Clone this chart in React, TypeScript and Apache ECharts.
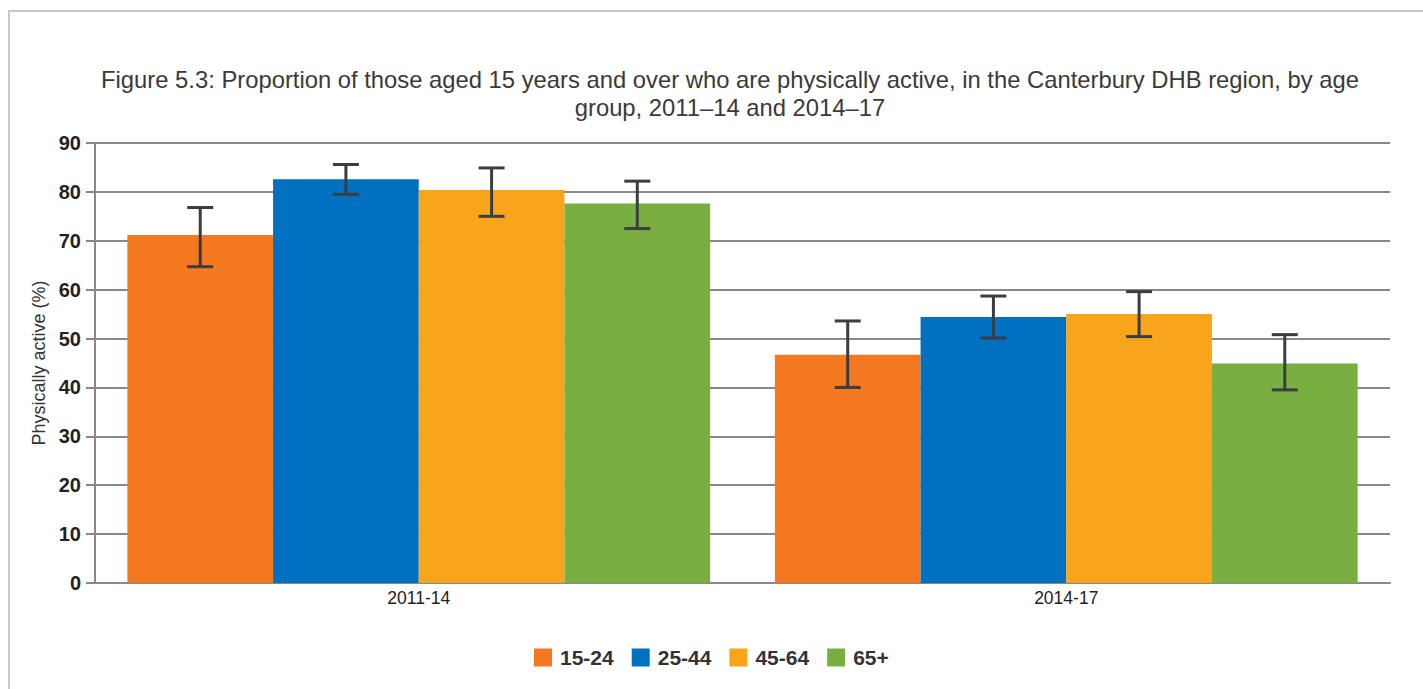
import React, { useEffect, useRef } from "react";
import * as echarts from "echarts";

const categories = ["2011-14", "2014-17"];
const seriesNames = ["15-24", "25-44", "45-64", "65+"];
const colors = ["#F47920", "#0070C0", "#F9A51B", "#78AF40"];
const values = [
  [71.2, 46.7],
  [82.6, 54.4],
  [80.4, 55.0],
  [77.6, 44.9],
];
const lowCI = [
  [64.7, 40.0],
  [79.5, 50.1],
  [75.0, 50.4],
  [72.5, 39.5],
];
const highCI = [
  [76.8, 53.6],
  [85.6, 58.7],
  [84.9, 59.6],
  [82.2, 50.8],
];
const yTicks = [0, 10, 20, 30, 40, 50, 60, 70, 80, 90];
const title =
  "Figure 5.3: Proportion of those aged 15 years and over who are physically active, in the Canterbury DHB region, by age\ngroup, 2011\u201314 and 2014\u201317";
const yAxisName = "Physically active (%)";

const CAT_GAP = 0.1;
const FONT = "'Liberation Sans', Arial, sans-serif";

export default function App() {
  const ref = useRef<HTMLDivElement>(null);
  useEffect(() => {
    if (!ref.current) return;
    const chart = echarts.init(ref.current, null, { renderer: "svg" });
    const n = seriesNames.length;
    const barSeries = seriesNames.map((name, i) => ({
      name,
      type: "bar",
      data: values[i],
      itemStyle: { color: colors[i] },
      barGap: "0%",
      barCategoryGap: CAT_GAP * 100 + "%",
    }));
    const errSeries = seriesNames.map((name, i) => ({
      name: name + "-err",
      type: "custom",
      data: categories.map((_, c) => [c, lowCI[i][c], highCI[i][c]]),
      encode: { x: 0, y: [1, 2] },
      z: 10,
      renderItem: (params: any, api: any) => {
        const c = api.value(0);
        const lo = api.coord([c, api.value(1)]);
        const hi = api.coord([c, api.value(2)]);
        const catW = api.size([1, 0])[0];
        const groupW = catW * (1 - CAT_GAP);
        const bw = groupW / n;
        const x = lo[0] - groupW / 2 + (i + 0.5) * bw;
        const cap = 13;
        const style = { stroke: "#3a3d42", lineWidth: 3 };
        return {
          type: "group",
          children: [
            { type: "line", shape: { x1: x, y1: hi[1], x2: x, y2: lo[1] }, style },
            { type: "line", shape: { x1: x - cap, y1: hi[1], x2: x + cap, y2: hi[1] }, style },
            { type: "line", shape: { x1: x - cap, y1: lo[1], x2: x + cap, y2: lo[1] }, style },
          ],
        };
      },
    }));
    chart.setOption({
      animation: false,
      backgroundColor: "#ffffff",
      title: {
        text: title,
        left: 725,
        textAlign: "center",
        top: 60,
        textStyle: {
          fontFamily: FONT,
          fontSize: 23.8,
          fontWeight: "normal",
          color: "#3a3a3a",
          lineHeight: 28,
        },
      },
      graphic: [
        {
          type: "rect",
          shape: { x: 9, y: 11, width: 1430, height: 700 },
          style: { fill: "none", stroke: "#c8c8c8", lineWidth: 2 },
          silent: true,
        },
      ],
      legend: {
        data: seriesNames,
        left: 534,
        top: 647,
        padding: 0,
        itemWidth: 18,
        itemHeight: 18,
        itemGap: 18,
        icon: "rect",
        textStyle: {
          fontFamily: FONT,
          fontSize: 21,
          fontWeight: "bold",
          color: "#333",
          padding: [0, 0, 0, 3],
        },
      },
      grid: { left: 95, right: 33, top: 143, bottom: 106, containLabel: false },
      xAxis: {
        type: "category",
        data: categories,
        axisLine: { lineStyle: { color: "#888", width: 2 } },
        axisTick: { alignWithLabel: true, length: 6, lineStyle: { color: "#888", width: 2 } },
        axisLabel: {
          fontFamily: FONT,
          fontSize: 17.5,
          color: "#222",
          margin: 6,
        },
      },
      yAxis: {
        type: "value",
        min: 0,
        max: 90,
        interval: 10,
        name: yAxisName,
        nameLocation: "middle",
        nameGap: 46,
        nameTextStyle: { fontFamily: FONT, fontSize: 18, color: "#333" },
        axisLine: { show: true, lineStyle: { color: "#888", width: 2 } },
        axisTick: { show: true, length: 9, lineStyle: { color: "#888", width: 2 } },
        axisLabel: {
          fontFamily: FONT,
          fontSize: 20,
          fontWeight: "bold",
          color: "#222",
          margin: 14,
          formatter: (v: number) => (yTicks.includes(v) ? String(v) : ""),
        },
        splitLine: { lineStyle: { color: "#888", width: 2 } },
      },
      series: [...barSeries, ...errSeries],
    });
    return () => chart.dispose();
  }, []);
  return (
    <div
      ref={ref}
      style={{ position: "fixed", left: 0, top: 0, width: 1423, height: 689 }}
    />
  );
}
